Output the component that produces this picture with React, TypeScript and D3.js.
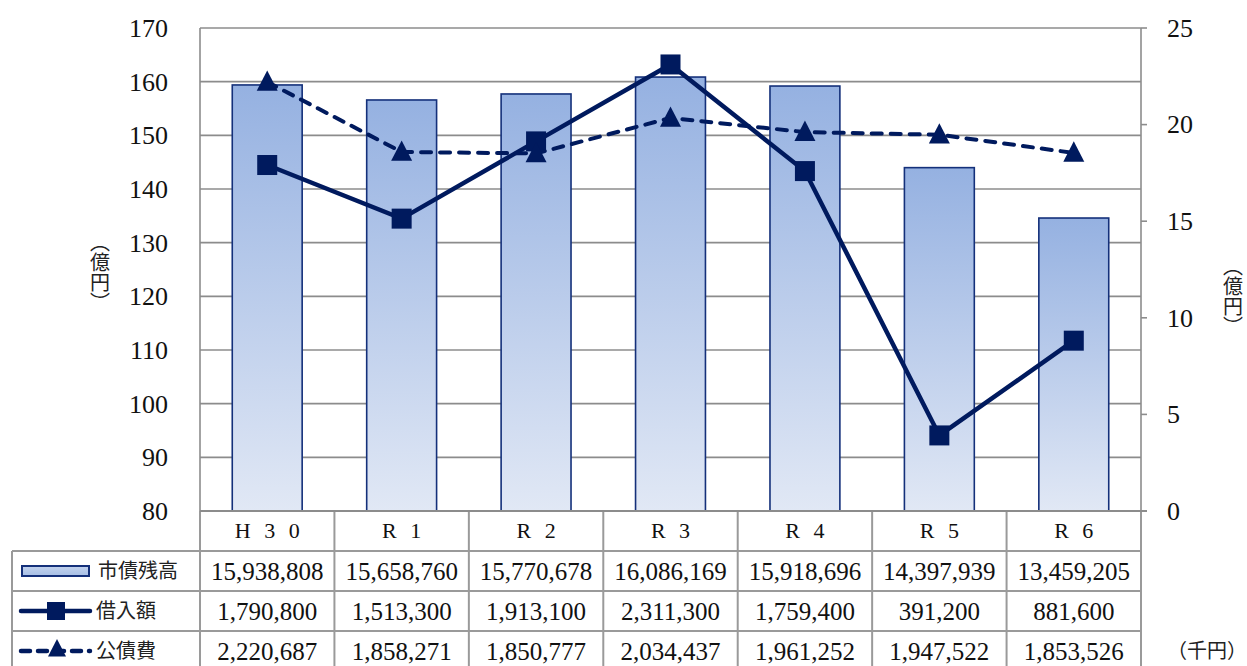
import React from "react";
import * as d3 from "d3";

const categories = ["H 3 0", "R 1", "R 2", "R 3", "R 4", "R 5", "R 6"];
const balance = [15938808, 15658760, 15770678, 16086169, 15918696, 14397939, 13459205];
const borrowing = [1790800, 1513300, 1913100, 2311300, 1759400, 391200, 881600];
const debtService = [2220687, 1858271, 1850777, 2034437, 1961252, 1947522, 1853526];
const leftTicks = [80, 90, 100, 110, 120, 130, 140, 150, 160, 170];
const rightTicks = [0, 5, 10, 15, 20, 25];
const seriesNames = ["市債残高", "借入額", "公債費"];

const W = 1247, H = 666;
const plotL = 200, plotR = 1141, plotT = 28, plotB = 511;
const tableL = 12;
const rowH = 40;
const NAVY = "#001a5e";
const GRID = "#8c8c8c";
const TBL = "#9a9a9a";
const SERIF = "'Liberation Serif', 'DejaVu Serif', serif";
const JP = "'Noto Sans CJK JP', 'Noto Sans', sans-serif";

const fmt = d3.format(",");

export default function App() {
  const x = d3.scaleBand<string>().domain(categories).range([plotL, plotR]).paddingInner(0.48).paddingOuter(0.24);
  const xc = (c: string) => (x(c) as number) + x.bandwidth() / 2;
  const yL = d3.scaleLinear().domain([80, 170]).range([plotB, plotT]);
  const yR = d3.scaleLinear().domain([0, 25]).range([plotB, plotT]);
  const toOku = (v: number) => v / 100000;
  const colW = (plotR - plotL) / categories.length;

  const lineGen = d3.line<number>().x((_, i) => xc(categories[i])).y((v) => yR(toOku(v)));

  const tri = (cx: number, cy: number, s: number) =>
    `M${cx},${cy - s * 0.55} L${cx + s / 2},${cy + s * 0.42} L${cx - s / 2},${cy + s * 0.42} Z`;

  const rowsData = [balance, borrowing, debtService];
  const rowTop = (r: number) => plotB + rowH * (r + 1);

  return (
    <svg width={W} height={H} style={{ position: "absolute", left: 0, top: 0, background: "#fff" }}>
      <defs>
        <linearGradient id="barGrad" x1="0" y1="0" x2="0" y2="1">
          <stop offset="0%" stopColor="#95b1e1" />
          <stop offset="100%" stopColor="#e1e8f5" />
        </linearGradient>
        <linearGradient id="legGrad" x1="0" y1="0" x2="0" y2="1">
          <stop offset="0%" stopColor="#c3d3ee" />
          <stop offset="100%" stopColor="#a7bfe6" />
        </linearGradient>
      </defs>

      {/* gridlines */}
      {leftTicks.map((t) => (
        <line key={"g" + t} x1={plotL} x2={plotR} y1={yL(t)} y2={yL(t)} stroke={GRID} strokeWidth={1.6} />
      ))}
      <line x1={plotL} x2={plotL} y1={plotT} y2={plotB} stroke={GRID} strokeWidth={1.6} />
      <line x1={plotR} x2={plotR} y1={plotT} y2={plotB} stroke={GRID} strokeWidth={1.6} />
      {rightTicks.map((t) => (
        <line key={"rt" + t} x1={plotR} x2={plotR + 6} y1={yR(t)} y2={yR(t)} stroke={GRID} strokeWidth={1.6} />
      ))}

      {/* bars */}
      {balance.map((v, i) => (
        <rect key={"b" + i} x={x(categories[i])} y={yL(toOku(v))} width={x.bandwidth()} height={plotB - yL(toOku(v))}
          fill="url(#barGrad)" stroke="#14307a" strokeWidth={1.6} />
      ))}

      {/* axis labels */}
      {leftTicks.map((t) => (
        <text key={"lt" + t} x={168} y={yL(t)} dy="0.34em" textAnchor="end" fontFamily={SERIF} fontSize={26} fill="#111">{t}</text>
      ))}
      {rightTicks.map((t) => (
        <text key={"rl" + t} x={1167} y={yR(t)} dy="0.34em" textAnchor="start" fontFamily={SERIF} fontSize={26} fill="#111">{t}</text>
      ))}
      <text x={100} y={232} fontFamily={JP} fontSize={20} fill="#222" style={{ writingMode: "vertical-rl" } as any}>（億円）</text>
      <text x={1233} y={256} fontFamily={JP} fontSize={20} fill="#222" style={{ writingMode: "vertical-rl" } as any}>（億円）</text>

      {/* lines */}
      <path d={lineGen(debtService) || ""} fill="none" stroke={NAVY} strokeWidth={4} strokeDasharray="10 9" strokeLinecap="round" />
      <path d={lineGen(borrowing) || ""} fill="none" stroke={NAVY} strokeWidth={4.5} />
      {borrowing.map((v, i) => (
        <rect key={"sq" + i} x={xc(categories[i]) - 10} y={yR(toOku(v)) - 10} width={20} height={20} fill={NAVY} />
      ))}
      {debtService.map((v, i) => (
        <path key={"tr" + i} d={tri(xc(categories[i]), yR(toOku(v)), 21)} fill={NAVY} />
      ))}

      {/* table */}
      <g>
        {categories.map((c, i) => (
          <text key={"c" + i} x={plotL + colW * (i + 0.5) + 2} y={plotB + rowH / 2} dy="0.34em" textAnchor="middle"
            fontFamily={SERIF} fontSize={22} fill="#111" letterSpacing={4}>{c}</text>
        ))}
        <line x1={plotL} x2={plotR} y1={plotB + rowH} y2={plotB + rowH} stroke={TBL} strokeWidth={2} />
        {[1, 2, 3].map((r) => (
          <line key={"h" + r} x1={tableL} x2={plotR} y1={rowTop(r)} y2={rowTop(r)} stroke={TBL} strokeWidth={2} />
        ))}
        <line x1={tableL} x2={plotR} y1={plotB + rowH} y2={plotB + rowH} stroke={TBL} strokeWidth={2} />
        <line x1={tableL} x2={tableL} y1={plotB + rowH} y2={H + 10} stroke={TBL} strokeWidth={2} />
        {d3.range(categories.length + 1).map((i) => (
          <line key={"v" + i} x1={plotL + colW * i} x2={plotL + colW * i} y1={plotB} y2={H + 10} stroke={TBL} strokeWidth={2} />
        ))}
        <line x1={plotL} x2={plotR + 6} y1={plotB} y2={plotB} stroke={GRID} strokeWidth={2} />

        {rowsData.map((arr, r) =>
          arr.map((v, i) => (
            <text key={"d" + r + "-" + i} x={plotL + colW * (i + 0.5)} y={rowTop(r) + rowH / 2} dy="0.34em" textAnchor="middle"
              fontFamily={SERIF} fontSize={25} fill="#111">{fmt(v)}</text>
          ))
        )}

        {/* legend keys */}
        <rect x={22} y={566} width={67} height={10} fill="url(#legGrad)" stroke="#14307a" strokeWidth={2} />
        <line x1={21} x2={90} y1={rowTop(1) + rowH / 2} y2={rowTop(1) + rowH / 2} stroke={NAVY} strokeWidth={4.5} strokeLinecap="round" />
        <rect x={47} y={rowTop(1) + rowH / 2 - 9} width={18} height={18} fill={NAVY} />
        <line x1={21} x2={90} y1={rowTop(2) + rowH / 2} y2={rowTop(2) + rowH / 2} stroke={NAVY} strokeWidth={4.5} strokeDasharray="9 8" strokeLinecap="round" />
        <path d={tri(57, rowTop(2) + rowH / 2 - 2, 18)} fill={NAVY} />
        {seriesNames.map((n, r) => (
          <text key={"n" + r} x={r === 0 ? 98 : 96} y={rowTop(r) + rowH / 2} dy="0.36em" textAnchor="start"
            fontFamily={JP} fontSize={20} fill="#222">{n}</text>
        ))}
        <text x={1167} y={rowTop(2) + rowH / 2} dy="0.36em" fontFamily={JP} fontSize={20} fill="#222">（千円）</text>
      </g>
    </svg>
  );
}
